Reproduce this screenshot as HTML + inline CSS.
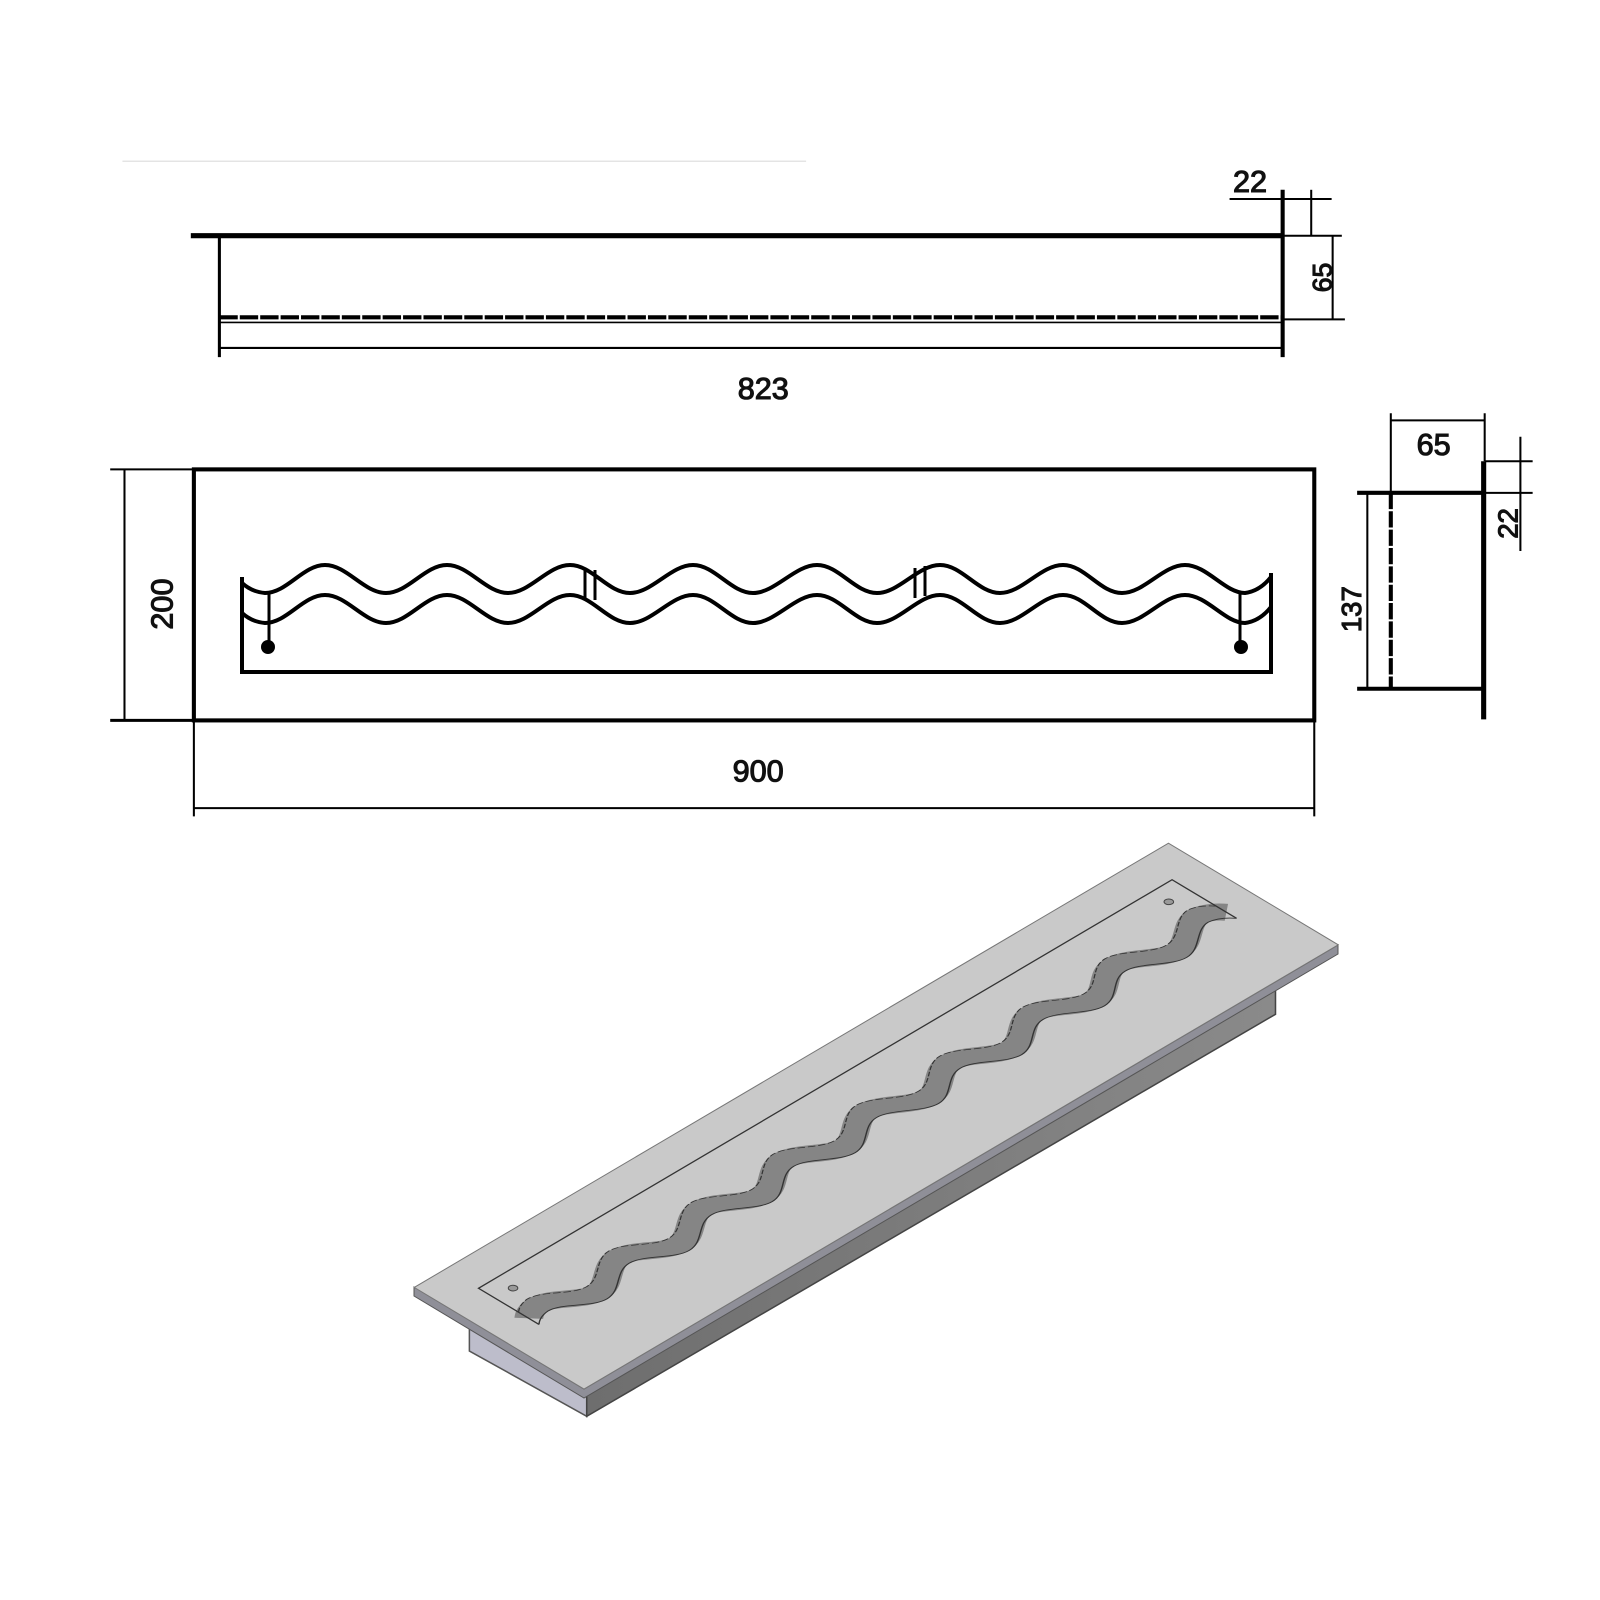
<!DOCTYPE html>
<html><head><meta charset="utf-8"><style>
html,body{margin:0;padding:0;background:#fff;}
svg{display:block;}
text{font-family:"Liberation Sans",sans-serif;font-size:30px;fill:#111;stroke:#111;stroke-width:1.1;}
</style></head><body>
<svg width="1600" height="1600" viewBox="0 0 1600 1600" xmlns="http://www.w3.org/2000/svg">
<defs>
<path id="wt" d="M242,583 Q252,592 265,593 C287,593 303,565 325,565 S364,593 386,593 S425,565 447,565 S486,593 508,593 S548,565 570,565 S608,593 630,593 S671,565 693,565 S731,593 753,593 S795,565 817,565 S855,593 877,593 S918,565 940,565 S978,593 1000,593 S1041,565 1063,565 S1100,593 1122,593 S1163,565 1185,565 S1225,593 1245,593 Q1260,591 1271,577"/>
<linearGradient id="gf" x1="0" y1="0" x2="1" y2="0"><stop offset="0" stop-color="#6e6e6e"/><stop offset="1" stop-color="#8a8a8a"/></linearGradient>
</defs>

<g transform="scale(1.0204)" stroke="#000" fill="none">
  <line x1="120" y1="158" x2="790" y2="158" stroke="#e4e4e4" stroke-width="1.5"/>
  <!-- top view -->
  <line x1="187" y1="231" x2="1258" y2="231" stroke-width="5"/>
  <line x1="215" y1="231" x2="215" y2="350" stroke-width="3"/>
  <line x1="1257" y1="186" x2="1257" y2="350" stroke-width="4"/>
  <line x1="215" y1="311" x2="1257" y2="311" stroke-width="4" stroke-dasharray="18 2"/>
  <line x1="215" y1="316" x2="1257" y2="316" stroke-width="1.5"/>
  <line x1="215" y1="341" x2="1257" y2="341" stroke-width="2"/>
  <line x1="1285" y1="186" x2="1285" y2="231" stroke-width="2"/>
  <line x1="1205" y1="195" x2="1305" y2="195" stroke-width="2"/>
  <line x1="1258" y1="231" x2="1315" y2="231" stroke-width="2"/>
  <line x1="1258" y1="313" x2="1318" y2="313" stroke-width="2"/>
  <line x1="1306" y1="231" x2="1306" y2="313" stroke-width="2"/>
  <!-- front view -->
  <rect x="190" y="460" width="1098" height="246" stroke-width="4"/>
  <line x1="108" y1="706" x2="190" y2="706" stroke-width="3"/>
  <line x1="108" y1="460" x2="190" y2="460" stroke-width="2"/>
  <line x1="122" y1="460" x2="122" y2="706" stroke-width="2"/>
  <line x1="190" y1="706" x2="190" y2="800" stroke-width="2"/>
  <line x1="1288" y1="706" x2="1288" y2="800" stroke-width="2"/>
  <line x1="190" y1="792" x2="1288" y2="792" stroke-width="2"/>
  <!-- side view -->
  <line x1="1330" y1="483" x2="1455" y2="483" stroke-width="4"/>
  <line x1="1455" y1="483" x2="1502" y2="483" stroke-width="2"/>
  <line x1="1330" y1="675" x2="1455" y2="675" stroke-width="4"/>
  <line x1="1363" y1="483" x2="1363" y2="675" stroke-width="4" stroke-dasharray="16 2"/>
  <line x1="1454" y1="452" x2="1454" y2="705" stroke-width="5"/>
  <line x1="1363" y1="405" x2="1363" y2="483" stroke-width="2"/>
  <line x1="1455" y1="405" x2="1455" y2="452" stroke-width="2"/>
  <line x1="1363" y1="412" x2="1455" y2="412" stroke-width="2"/>
  <line x1="1455" y1="452" x2="1502" y2="452" stroke-width="2"/>
  <line x1="1490" y1="428" x2="1490" y2="540" stroke-width="2"/>
  <line x1="1340" y1="483" x2="1340" y2="675" stroke-width="2"/>

  <!-- 3D box -->
  <polygon points="460,1296 575,1363 575,1388 460,1324" fill="#bdbdcb" stroke="#555" stroke-width="1.5"/>
  <polygon points="575,1363 1250,967 1250,994 575,1388" fill="url(#gf)" stroke="#444" stroke-width="1.5"/>
</g>

<!-- plate edge (true coords) -->
<polygon points="414,1287 584,1389 1338,945 1338,954 584,1398 414,1296" fill="#8f8f98" stroke="#555" stroke-width="1"/>

<!-- 3D plate top & insert in front-view true coords -->
<g transform="matrix(0.674,-0.397,-0.679,-0.4065,771.7,1657.5)">
  <rect x="195" y="470" width="1119" height="250" fill="#c9c9c9" stroke="#777" stroke-width="1" vector-effect="non-scaling-stroke"/>
  <use href="#wt" transform="translate(0,15)" stroke="#858585" stroke-width="30" fill="none"/>
  <path d="M242,583 L242,672 L1271,672 L1271,577" fill="none" stroke="#333" stroke-width="1.3" vector-effect="non-scaling-stroke"/>
  <use href="#wt" fill="none" stroke="#333" stroke-width="1.5" vector-effect="non-scaling-stroke"/>
  <use href="#wt" transform="translate(0,30)" fill="none" stroke="#333" stroke-width="1.3" stroke-dasharray="8 3" vector-effect="non-scaling-stroke"/>
  <circle cx="268" cy="647" r="5" fill="#999" stroke="#444" stroke-width="1" vector-effect="non-scaling-stroke"/>
  <circle cx="1241" cy="647" r="5" fill="#999" stroke="#444" stroke-width="1" vector-effect="non-scaling-stroke"/>
</g>

<!-- front view slot (true coords) -->
<g stroke="#000" fill="none" stroke-width="4">
  <path d="M242,577 L242,672 L1271,672 L1271,573"/>
  <use href="#wt"/>
  <use href="#wt" transform="translate(0,30)"/>
  <line x1="269" y1="593" x2="269" y2="645" stroke-width="3"/>
  <line x1="1240" y1="593" x2="1240" y2="645" stroke-width="3"/>
  <line x1="585" y1="568" x2="585" y2="598" stroke-width="3"/>
  <line x1="595" y1="570" x2="595" y2="600" stroke-width="3"/>
  <line x1="915" y1="568" x2="915" y2="598" stroke-width="3"/>
  <line x1="925" y1="566" x2="925" y2="596" stroke-width="3"/>
  <circle cx="268" cy="647" r="7" fill="#000" stroke="none"/>
  <circle cx="1241" cy="647" r="7" fill="#000" stroke="none"/>
</g>

<g transform="scale(1.0204)">
  <text x="748" y="391" text-anchor="middle">823</text>
  <text x="1225" y="188" text-anchor="middle">22</text>
  <text x="743" y="766" text-anchor="middle">900</text>
  <text x="1405" y="446" text-anchor="middle">65</text>
  <text transform="translate(1305,272) rotate(-90)" text-anchor="middle" style="font-size:26px">65</text>
  <text transform="translate(169,592) rotate(-90)" text-anchor="middle">200</text>
  <text transform="translate(1334,597) rotate(-90)" text-anchor="middle" style="font-size:27px">137</text>
  <text transform="translate(1487,513) rotate(-90)" text-anchor="middle" style="font-size:27px">22</text>
</g>
</svg>
</body></html>
